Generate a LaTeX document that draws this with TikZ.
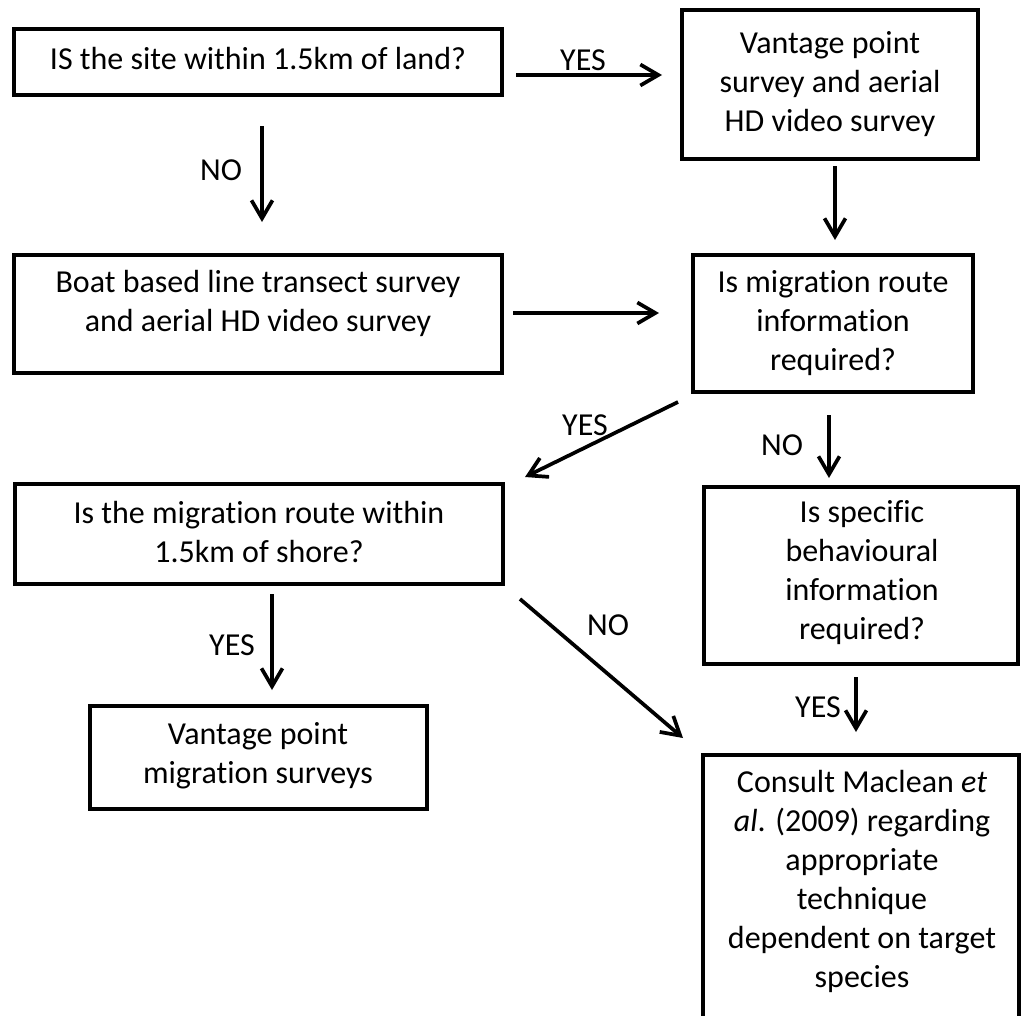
\documentclass[tikz,border=0pt]{standalone}
\usepackage{fontspec}
\setmainfont{Carlito}[Ligatures=NoCommon]
\usetikzlibrary{arrows.meta,calc}
\begin{document}
\begin{tikzpicture}[x=1pt,y=-1pt,
  box/.style 2 args={draw=black,line width=4pt,rectangle,inner sep=0pt,
    outer sep=0pt,minimum width=#1,minimum height=#2},
  txt/.style={align=center,inner sep=0pt,font=\fontsize{32}{39}\selectfont,
    execute at begin node=\strut,execute at end node=\strut},
  lbl/.style={inner sep=0pt,font=\fontsize{32}{39}\selectfont},
  arr/.style={line width=3.7pt,-{Straight Barb[length=18pt,width=21pt]}}]

\useasboundingbox (0,0) rectangle (1022,1015);
\clip (0,0) rectangle (1022,1015);

% boxes
\node[box={488pt}{66pt}]  (b1) at (258,62) {};
\node[box={296pt}{149pt}] (b2) at (830,84.5) {};
\node[box={488pt}{118pt}] (b3) at (258,314) {};
\node[box={280pt}{137pt}] (b4) at (833,323.5) {};
\node[box={314pt}{177pt}] (b5) at (861,575.5) {};
\node[box={488pt}{100pt}] (b6) at (259,534) {};
\node[box={337pt}{103pt}] (b7) at (258.5,757.5) {};
\node[box={316pt}{285pt}] (b8) at (861,897.5) {};

% box texts
\node[txt] (t1) at (258,62) {IS the site within 1.5km of land?};
\node[txt] (t2) at (830,87) {Vantage point\\survey and aerial\\HD video survey};
\node[txt] (t3) at (258,307) {Boat based line transect survey\\and aerial HD video survey};
\node[txt] (t4) at (833,326.5) {Is migration route\\information\\required?};
\node[txt] (t5) at (862,576) {Is specific\\behavioural\\information\\required?};
\node[txt] (t6) at (259,538) {Is the migration route within\\1.5km of shore?};
\node[txt] (t7) at (258,758.5) {Vantage point\\migration surveys};
\node[txt] (t8) at (862,884.5) {Consult Maclean \textit{et}\\\textit{al}. (2009) regarding\\appropriate\\technique\\dependent on target\\species};

% connectors
\draw[arr] ($(b1.east)+(14,13)$) -- ($(b2.west)+(-20,-9.5)$);
\draw[arr] ($(b1.south)+(4,31)$) -- ($(b3.north)+(4,-33)$);
\draw[arr] ($(b2.south)+(5,7)$) -- ($(b4.north)+(2,-15)$);
\draw[arr] ($(b3.east)+(11,-1)$) -- ($(b4.west)+(-34,-10.5)$);
\draw[arr] ($(b4.south west)+(-15,10)$) -- ($(b6.north east)+(22,-7)$);
\draw[arr] ($(b4.south)+(-4,23)$) -- ($(b5.north)+(-32,-9)$);
\draw[arr] ($(b6.south)+(13,10)$) -- ($(b7.north)+(13.5,-16)$);
\draw[arr] ($(b6.south east)+(17,15)$) -- ($(b8.north west)+(-20,-17)$);
\draw[arr] ($(b5.south)+(-5,13)$) -- ($(b8.north)+(-5,-23)$);

% connector labels
\node[lbl] (yes1) at (583,60) {YES};
\node[lbl] (no1)  at (221,170) {NO};
\node[lbl] (yes2) at (585,425) {YES};
\node[lbl] (no2)  at (782,445) {NO};
\node[lbl] (yes3) at (232,645) {YES};
\node[lbl] (no3)  at (608,625) {NO};
\node[lbl] (yes4) at (818,707) {YES};
\end{tikzpicture}
\end{document}
